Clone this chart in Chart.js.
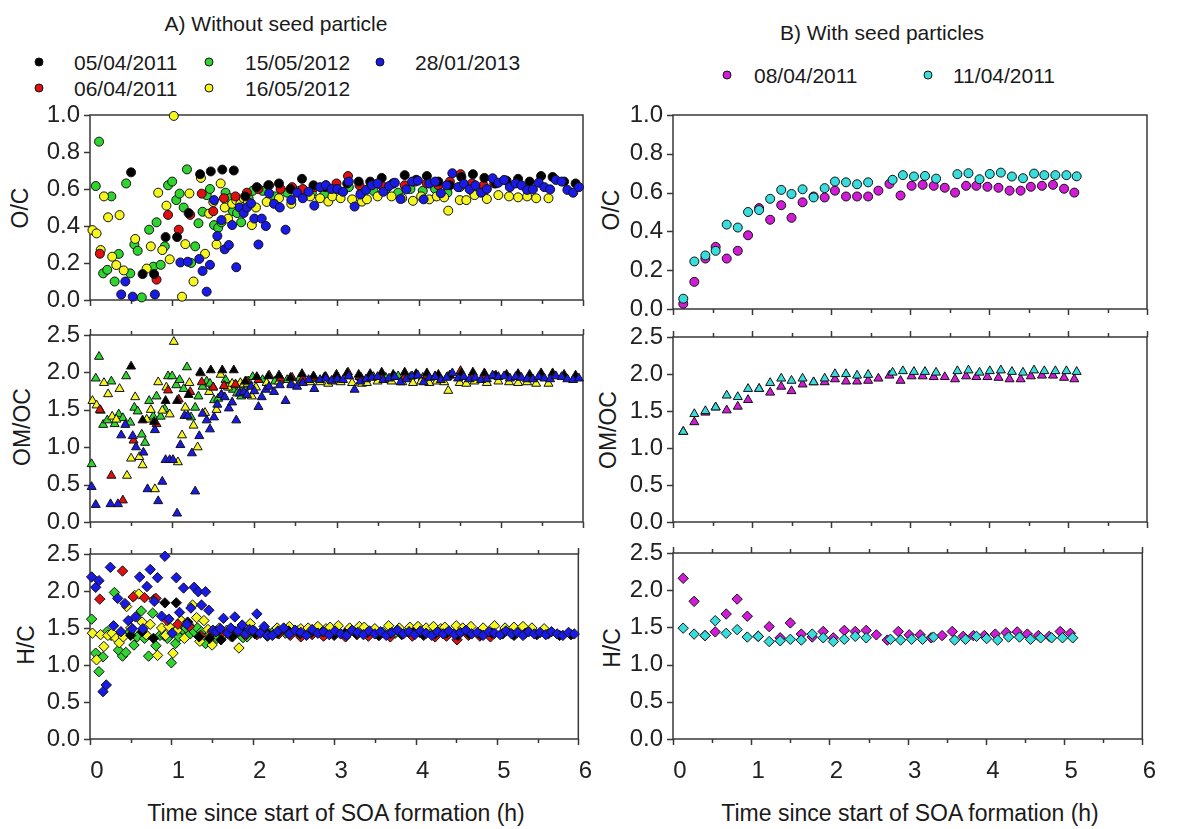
<!DOCTYPE html>
<html><head><meta charset="utf-8">
<script src="https://cdn.jsdelivr.net/npm/chart.js@4.4.1/dist/chart.umd.min.js"></script>
<style>
body{margin:0;background:#fff;width:1185px;height:829px;overflow:hidden;position:relative;font-family:"Liberation Sans",Arial,sans-serif;color:#1a1a1a}
canvas{position:absolute}
.lg{position:absolute;white-space:nowrap;font-size:21px;line-height:1;transform:translateY(-50%)}
.ttl{position:absolute;white-space:nowrap;font-size:21px;line-height:1;transform:translate(-50%,-50%)}
.yt{position:absolute;font-size:23px;line-height:1;white-space:nowrap;transform:translate(-50%,-50%) rotate(-90deg)}
.xt{position:absolute;font-size:23px;line-height:1;white-space:nowrap;transform:translate(-50%,-50%)}
.dot{position:absolute;width:7px;height:7px;border-radius:50%;border:1px solid #111;transform:translate(-50%,-50%)}
</style></head>
<body>
<div class="ttl" style="left:276px;top:23px">A) Without seed particle</div>
<div class="ttl" style="left:882px;top:32px">B) With seed particles</div>

<div class="dot" style="left:39px;top:62px;background:#000"></div><div class="lg" style="left:74px;top:62px">05/04/2011</div>
<div class="dot" style="left:209px;top:62px;background:#2fd42f"></div><div class="lg" style="left:245px;top:62px">15/05/2012</div>
<div class="dot" style="left:380px;top:62px;background:#1a1ae8"></div><div class="lg" style="left:415px;top:62px">28/01/2013</div>
<div class="dot" style="left:39px;top:88px;background:#e01010"></div><div class="lg" style="left:74px;top:88px">06/04/2011</div>
<div class="dot" style="left:209px;top:88px;background:#f5f520"></div><div class="lg" style="left:245px;top:88px">16/05/2012</div>

<div class="dot" style="left:727px;top:75px;background:#d21bd6"></div><div class="lg" style="left:754px;top:75px">08/04/2011</div>
<div class="dot" style="left:928px;top:75px;background:#38dcdc"></div><div class="lg" style="left:953px;top:75px">11/04/2011</div>

<div class="yt" style="left:20px;top:208px">O/C</div>
<div class="yt" style="left:22px;top:427px">OM/OC</div>
<div class="yt" style="left:26px;top:645px">H/C</div>
<div class="yt" style="left:611px;top:210px">O/C</div>
<div class="yt" style="left:608px;top:430px">OM/OC</div>
<div class="yt" style="left:612px;top:648px">H/C</div>
<div class="xt" style="left:336px;top:813px">Time since start of SOA formation (h)</div>
<div class="xt" style="left:910px;top:813px">Time since start of SOA formation (h)</div>

<script>
// ---------- Data (time in h; O/C, OM/OC, H/C) ----------
const tBlack = [0.50,0.64,0.78,0.92,1.06,1.20,1.34,1.47,1.61,1.75,1.89,2.03,2.17,2.30,2.44,2.58,2.72,2.86,3.00,3.13,3.27,3.41,3.55,3.69,3.83,3.97,4.10,4.24,4.38,4.52,4.66,4.80,4.94,5.07,5.21,5.35,5.49,5.63,5.77,5.91];
const ocBlack = [0.69,0.14,0.14,0.34,0.34,0.47,0.68,0.695,0.705,0.70,0.56,0.61,0.62,0.63,0.60,0.655,0.62,0.61,0.60,0.63,0.64,0.64,0.66,0.63,0.675,0.65,0.67,0.64,0.62,0.665,0.68,0.66,0.63,0.645,0.655,0.64,0.67,0.665,0.64,0.63];
const omBlack = [2.08,1.36,1.34,1.62,1.62,1.70,2.00,2.03,2.03,2.03,1.88,1.94,1.95,1.96,1.93,1.98,1.95,1.94,1.97,1.99,1.97,1.98,2.00,1.97,2.00,1.98,1.99,1.97,1.96,1.99,2.00,1.99,1.96,1.97,1.98,1.97,1.99,1.99,1.97,1.96];
const hcBlack = [1.40,1.45,1.36,1.84,1.84,1.58,1.38,1.36,1.34,1.38,1.45,1.42,1.44,1.43,1.46,1.42,1.44,1.45,1.41,1.43,1.42,1.44,1.40,1.43,1.42,1.44,1.41,1.42,1.43,1.40,1.42,1.41,1.43,1.42,1.40,1.43,1.41,1.42,1.40,1.41];

const tRed = [0.12,0.26,0.40,0.53,0.67,0.81,0.95,1.08,1.22,1.36,1.50,1.63,1.77,1.91,2.05,2.18,2.32,2.46,2.59,2.73,2.87,3.00,3.14,3.28,3.42,3.55,3.69,3.83,3.96,4.10,4.24,4.38,4.51,4.65,4.79,4.92];
const ocRed = [0.25,null,null,null,null,0.11,0.46,0.38,0.46,0.575,0.48,0.55,0.56,0.58,0.60,0.62,0.60,0.61,0.60,0.61,0.62,0.63,0.67,0.62,0.63,0.62,0.63,0.62,0.64,0.63,0.62,0.64,0.68,0.63,0.62,0.63];
const omRed = [1.50,0.62,0.29,1.09,null,1.31,1.76,1.64,1.74,1.87,1.80,1.82,1.84,1.88,1.90,1.96,1.92,1.93,1.92,1.93,1.94,1.95,2.00,1.94,1.95,1.94,1.95,1.94,1.96,1.95,1.94,1.96,2.02,1.95,1.94,1.95];
const hcRed = [1.89,null,2.27,1.92,1.91,1.90,1.60,1.55,1.52,1.40,1.45,1.44,1.42,1.40,1.41,1.39,1.42,1.40,1.38,1.41,1.39,1.40,1.38,1.41,1.39,1.40,1.38,1.41,1.39,1.40,1.38,1.39,1.34,1.40,1.39,1.38];

const tGreen = [0.02,0.07,0.11,0.16,0.21,0.26,0.30,0.35,0.40,0.44,0.49,0.54,0.58,0.63,0.67,0.72,0.77,0.81,0.86,0.91,0.95,1.00,1.05,1.09,1.14,1.18,1.23,1.28,1.32,1.37,1.42,1.46,1.51,1.56,1.60,1.65,1.70,1.74,1.79,1.84,1.88,1.93,1.98,
  2.10,2.25,2.40,2.55,2.70,2.85,3.00,3.15,3.30,3.45,3.60,3.75,3.90,4.05,4.20,4.35,4.50,4.65,4.80];
const ocGreen = [null,0.616,0.856,0.144,0.163,0.56,0.10,0.249,null,0.63,0.144,0.30,0.266,0.014,null,0.38,0.18,0.42,0.19,0.29,0.62,0.64,0.54,0.575,0.50,0.706,0.20,0.29,0.415,0.477,0.567,0.60,0.405,0.39,0.42,0.58,0.55,0.48,0.47,0.42,0.50,0.55,0.59,
  0.59,0.56,0.58,0.59,0.58,0.57,0.60,0.61,0.58,0.59,0.60,0.58,0.60,0.59,0.60,0.58,0.61,0.59,0.60];
const omGreen = [0.775,1.92,2.21,1.30,1.36,1.88,1.31,1.44,1.39,1.95,1.33,1.53,1.48,1.17,1.06,1.62,1.41,1.68,1.41,1.51,1.95,1.95,1.83,1.90,1.78,2.07,1.40,1.53,1.68,1.81,1.88,1.85,1.63,1.65,1.70,1.90,1.80,1.77,1.72,1.68,1.80,1.88,1.94,
  1.90,1.88,1.90,1.92,1.91,1.93,1.92,1.95,1.93,1.94,1.93,1.95,1.94,1.93,1.95,1.94,1.95,1.94,1.95];
const hcGreen = [1.62,1.16,0.91,1.11,1.45,1.40,1.98,1.20,1.12,1.17,1.45,1.27,1.38,1.73,1.36,1.12,1.70,1.26,1.40,1.40,1.36,1.03,1.29,1.38,1.48,1.50,1.42,1.45,1.50,1.45,1.29,1.40,1.42,1.36,1.44,1.41,1.43,1.40,1.45,1.42,1.37,1.38,1.44,
  1.44,1.45,1.43,1.46,1.44,1.45,1.43,1.44,1.46,1.45,1.44,1.43,1.45,1.44,1.46,1.44,1.45,1.43,1.44];

const tYellow = [0.03,0.08,0.13,0.17,0.22,0.27,0.32,0.36,0.41,0.45,0.50,0.55,0.60,0.64,0.69,0.74,0.79,0.83,0.88,0.93,0.97,1.02,1.07,1.12,1.16,1.21,1.26,1.31,1.35,1.40,1.45,1.50,1.54,1.59,1.64,1.68,1.73,1.78,1.83,1.87,1.92,1.97,2.02,
  2.15,2.30,2.45,2.59,2.68,2.80,2.90,2.95,3.05,3.19,3.31,3.37,3.50,3.67,3.80,3.93,4.03,4.13,4.22,4.31,4.36,4.50,4.58,4.68,4.83,4.97,5.10,5.21,5.32,5.43,5.58];
const ocYellow = [0.378,0.36,0.27,0.56,0.447,0.234,0.189,0.459,0.16,null,null,0.33,null,null,0.17,0.29,null,0.58,0.27,0.51,0.22,0.995,null,0.018,0.302,0.576,0.10,null,0.66,0.25,0.467,0.53,0.30,0.63,0.50,0.44,0.52,0.54,0.52,0.55,0.53,0.405,0.50,
  0.53,0.55,0.52,0.595,0.56,0.55,0.532,0.56,0.55,0.544,0.532,0.544,0.56,0.56,0.55,0.536,0.56,0.544,0.56,0.555,0.483,0.54,0.54,0.567,0.546,0.567,0.56,0.555,0.56,0.55,0.55];
const omYellow = [1.62,1.56,1.49,1.86,1.71,1.41,1.37,1.78,null,0.62,0.85,1.67,0.87,0.76,1.37,1.50,0.44,1.87,1.49,1.80,1.44,2.41,0.80,1.16,1.53,1.86,1.29,1.00,1.99,1.46,1.74,1.80,1.50,1.97,1.82,1.80,1.85,1.83,1.86,1.84,1.85,1.68,1.80,
  1.86,1.88,1.85,1.90,1.87,1.87,1.85,1.88,1.87,1.86,1.85,1.86,1.88,1.88,1.87,1.86,1.88,1.86,1.88,1.87,1.755,1.86,1.85,1.88,1.86,1.88,1.87,1.86,1.87,1.85,1.85];
const hcYellow = [1.43,1.07,1.41,1.25,1.40,1.43,1.36,1.30,1.38,1.79,1.50,1.94,1.96,1.58,1.41,1.55,1.89,1.13,1.50,1.40,1.52,1.16,1.47,1.60,1.36,1.55,1.81,1.64,1.32,1.60,1.48,1.27,1.45,1.50,1.42,1.47,1.39,1.45,1.23,1.48,1.50,1.56,1.46,
  1.48,1.50,1.52,1.49,1.50,1.52,1.49,1.51,1.53,1.50,1.52,1.51,1.49,1.53,1.50,1.51,1.52,1.50,1.52,1.49,1.51,1.53,1.50,1.52,1.50,1.53,1.50,1.51,1.52,1.50,1.49];

const tBlue = [0.02,0.07,0.11,0.16,0.20,0.25,0.29,0.34,0.38,0.43,0.47,0.52,0.56,0.61,0.65,0.70,0.74,0.79,0.83,0.88,0.92,0.97,1.01,1.06,1.10,1.15,1.19,1.24,1.28,1.33,1.37,1.42,1.46,1.51,1.55,1.60,1.64,1.69,1.73,1.78,1.82,1.87,1.91,1.96,2.00,2.05,2.09,2.14,2.18,
  2.24,2.31,2.38,2.45,2.52,2.59,2.66,2.73,2.80,2.87,2.94,3.01,3.08,3.15,3.22,3.29,3.36,3.43,3.50,3.57,3.64,3.71,3.78,3.85,3.92,3.99,4.06,4.13,4.20,4.27,4.34,4.41,4.48,4.55,4.62,4.69,4.76,4.83,4.90,4.97,5.04,5.11,5.18,5.25,5.32,5.39,5.46,5.53,5.60,5.67,5.74,5.81,5.88,5.95];
const ocBlue = [null,null,null,null,null,null,null,null,0.03,0.10,null,0.018,null,null,null,null,null,0.03,null,null,null,null,null,null,0.203,null,0.207,null,null,0.222,0.157,0.045,0.19,0.54,0.346,0.432,0.274,0.297,0.405,0.177,0.50,0.47,0.50,0.522,0.44,0.30,0.44,0.40,0.576,
  0.52,0.50,0.38,0.54,0.58,0.55,0.585,0.51,0.61,0.62,0.60,0.60,0.585,0.64,0.505,0.57,0.595,0.62,0.63,0.585,0.616,0.634,0.546,0.598,0.64,0.645,0.544,0.63,0.64,0.577,0.62,0.685,0.61,0.628,0.598,0.62,0.58,0.60,0.658,0.634,0.649,0.61,0.63,0.62,0.595,0.598,0.634,0.61,0.598,0.649,0.64,0.595,0.58,0.61];
const omBlue = [0.47,0.23,null,null,null,0.24,null,0.24,1.16,1.30,null,1.15,1.00,null,0.93,0.44,null,1.23,0.28,0.54,0.83,0.83,0.83,0.115,1.03,1.42,1.42,0.92,0.41,1.15,1.45,1.36,1.24,1.40,1.57,1.70,1.67,1.52,1.60,1.36,1.72,1.74,1.70,1.81,1.75,1.54,1.67,1.77,1.81,
  1.74,1.83,1.62,1.83,1.81,1.86,1.90,1.78,1.90,1.92,1.89,1.91,1.90,1.95,1.77,1.88,1.91,1.93,1.94,1.90,1.92,1.94,1.87,1.91,1.95,1.96,1.87,1.93,1.94,1.90,1.93,1.99,1.92,1.94,1.91,1.93,1.90,1.91,1.96,1.94,1.95,1.92,1.94,1.93,1.91,1.91,1.94,1.92,1.91,1.95,1.94,1.91,1.90,1.92];
const hcBlue = [2.19,2.05,2.14,0.64,0.73,2.32,1.53,1.90,1.45,1.83,1.60,1.49,1.65,2.19,1.49,2.06,2.29,1.86,2.18,1.66,2.47,1.62,1.43,2.18,1.71,2.04,1.55,1.77,2.05,1.99,1.81,1.99,1.74,1.47,1.45,1.49,1.63,1.43,1.50,1.65,1.46,1.54,1.42,1.48,1.47,1.69,1.43,1.52,1.40,
  1.40,1.46,1.50,1.42,1.47,1.44,1.40,1.48,1.43,1.45,1.41,1.46,1.42,1.40,1.47,1.44,1.41,1.46,1.42,1.45,1.40,1.44,1.47,1.42,1.45,1.41,1.46,1.43,1.40,1.45,1.42,1.46,1.41,1.44,1.47,1.42,1.44,1.40,1.45,1.43,1.41,1.46,1.42,1.44,1.40,1.45,1.42,1.44,1.41,1.45,1.42,1.40,1.44,1.42];

const tMag = [0.13,0.27,0.41,0.54,0.68,0.82,0.95,1.09,1.23,1.37,1.50,1.64,1.78,1.92,2.05,2.19,2.33,2.47,2.60,2.74,2.88,3.02,3.16,3.30,3.44,3.57,3.71,3.84,3.98,4.12,4.26,4.40,4.53,4.67,4.81,4.95,5.08];
const ocMag = [0.027,0.14,0.26,0.32,0.26,0.30,0.38,0.52,0.46,0.535,0.47,0.55,0.58,0.575,0.61,0.58,0.58,0.58,0.61,0.645,0.585,0.635,0.64,0.635,0.625,0.60,0.635,0.635,0.63,0.625,0.61,0.61,0.63,0.635,0.64,0.62,0.60];
const omMag = [1.22,1.35,1.48,1.55,1.51,1.56,1.65,1.80,1.75,1.83,1.77,1.86,1.89,1.89,1.93,1.90,1.90,1.91,1.94,1.98,1.91,1.97,1.97,1.96,1.96,1.93,1.97,1.96,1.96,1.95,1.93,1.93,1.97,1.98,1.98,1.95,1.93];
const hcMag = [2.16,1.85,1.39,1.44,1.68,1.88,1.65,1.38,1.51,1.36,1.56,1.41,1.37,1.445,1.36,1.46,1.445,1.46,1.40,1.33,1.445,1.40,1.40,1.36,1.39,1.445,1.38,1.39,1.39,1.41,1.43,1.44,1.41,1.39,1.38,1.445,1.42];

const tCyan = [0.13,0.27,0.41,0.54,0.68,0.82,0.95,1.09,1.23,1.37,1.50,1.64,1.78,1.92,2.05,2.19,2.33,2.47,2.78,2.91,3.05,3.19,3.33,3.60,3.74,3.88,4.01,4.15,4.29,4.43,4.57,4.70,4.84,4.98,5.11];
const ocCyan = [0.053,0.245,0.276,0.30,0.435,0.42,0.50,0.51,0.568,0.614,0.593,0.617,0.575,0.623,0.657,0.653,0.643,0.653,0.666,0.69,0.683,0.686,0.672,0.695,0.70,0.669,0.696,0.703,0.683,0.674,0.698,0.69,0.69,0.69,0.684];
const omCyan = [1.22,1.46,1.50,1.55,1.71,1.69,1.80,1.80,1.88,1.94,1.91,1.94,1.89,1.94,2.00,2.00,1.98,1.99,2.02,2.04,2.03,2.03,2.02,2.04,2.05,2.02,2.04,2.05,2.03,2.02,2.05,2.04,2.04,2.04,2.03];
const hcCyan = [1.49,1.41,1.39,1.59,1.42,1.47,1.37,1.38,1.31,1.32,1.34,1.33,1.41,1.36,1.31,1.34,1.38,1.36,1.34,1.33,1.34,1.34,1.37,1.33,1.34,1.38,1.35,1.33,1.37,1.37,1.34,1.36,1.36,1.36,1.36];

const xTickValues = [0,1,2,3,4,5,6];

// ---------- Rendering ----------
const FONT = '"Liberation Sans", Arial, sans-serif';
const COL = {black:'#000000', red:'#e01010', green:'#2fd42f', yellow:'#f5f520', blue:'#1a1ae8', mag:'#d21bd6', cyan:'#38dcdc'};

function pts(t, v){ const out=[]; for(let i=0;i<t.length;i++){ if(v[i]!==null && v[i]!==undefined) out.push({x:t[i], y:v[i]}); } return out; }
function ds(data, color, shape, r){
  return {data, pointStyle:shape, pointRadius:r, pointHoverRadius:r, backgroundColor:color, borderColor:'#111', borderWidth:1, showLine:false, clip:12};
}

const framePlugin = {
  id:'frame',
  beforeDatasetsDraw(chart, args, o){
    const {ctx, chartArea:a, scales} = chart;
    const x = scales.x, y = scales.y;
    ctx.save();
    ctx.strokeStyle = '#383838'; ctx.lineWidth = 1.5;
    ctx.strokeRect(a.left, a.top, a.right-a.left, a.bottom-a.top);
    ctx.beginPath();
    for(let k=0;k<=12;k++){
      const v = k/2, px = Math.round(x.getPixelForValue(v))+0.5, L = (k%2===0)?6:4;
      ctx.moveTo(px, a.bottom); ctx.lineTo(px, a.bottom+L);
      if(o.top){ ctx.moveTo(px, a.top); ctx.lineTo(px, a.top-L); }
    }
    y.ticks.forEach(t=>{ const py = Math.round(y.getPixelForValue(t.value))+0.5; ctx.moveTo(a.left, py); ctx.lineTo(a.left-6, py); });
    ctx.stroke();
    ctx.restore();
  }
};

function panel(left, top, plotW, plotH, showX, yMax, yStep, datasets, topTicks){
  const PAD_T=28, PAD_R=20, PAD_B = showX?8:18, YW=80, XH = showX?50:10;
  const c = document.createElement('canvas');
  c.width = YW + plotW + PAD_R; c.height = PAD_T + plotH + XH + PAD_B;
  c.style.left = (left - YW) + 'px'; c.style.top = (top - PAD_T) + 'px';
  document.body.appendChild(c);
  new Chart(c, {
    type:'scatter',
    data:{datasets},
    options:{
      responsive:false, animation:false, devicePixelRatio:1, events:[],
      layout:{padding:{left:0,right:PAD_R,top:PAD_T,bottom:PAD_B}},
      plugins:{legend:{display:false}, tooltip:{enabled:false}, frame:{top:topTicks}},
      scales:{
        x:{type:'linear', min:0, max:6, afterFit:s=>{s.height=XH;},
           afterBuildTicks:s=>{ s.ticks = xTickValues.map(v=>({value:v})); },
           grid:{display:false, drawTicks:false}, border:{display:false},
           ticks:{display:showX, padding:18, labelOffset:7, color:'#222', font:{family:FONT,size:24}, callback:v=>String(v)}},
        y:{type:'linear', min:0, max:yMax, afterFit:s=>{s.width=YW;},
           grid:{display:false, drawTicks:false}, border:{display:false},
           ticks:{stepSize:yStep, padding:10, color:'#222', font:{family:FONT,size:24}, callback:v=>Number(v).toFixed(1)}}
      }
    },
    plugins:[framePlugin]
  });
}

function leftSets(vals, shape, r){
  return [
    ds(pts(tBlue, vals.blue), COL.blue, shape, r),
    ds(pts(tBlack, vals.black), COL.black, shape, r),
    ds(pts(tRed, vals.red), COL.red, shape, r),
    ds(pts(tYellow, vals.yellow), COL.yellow, shape, r),
    ds(pts(tGreen, vals.green), COL.green, shape, r)
  ];
}
function rightSets(vc, vm, shape, r){
  return [ ds(pts(tCyan, vc), COL.cyan, shape, r), ds(pts(tMag, vm), COL.mag, shape, r) ];
}

// Left column (A)
panel(90, 115, 493, 185, false, 1.0, 0.2, leftSets({blue:ocBlue,black:ocBlack,red:ocRed,yellow:ocYellow,green:ocGreen}, 'circle', 4.5), false);
panel(90, 335, 493, 187, false, 2.5, 0.5, leftSets({blue:omBlue,black:omBlack,red:omRed,yellow:omYellow,green:omGreen}, 'triangle', 5.2), true);
panel(90, 554, 493, 185, true, 2.5, 0.5, leftSets({blue:hcBlue,black:hcBlack,red:hcRed,yellow:hcYellow,green:hcGreen}, 'rectRot', 5.2), true);
// Right column (B)
panel(673, 115, 474, 194, false, 1.0, 0.2, rightSets(ocCyan, ocMag, 'circle', 4.5), false);
panel(673, 337, 474, 185, false, 2.5, 0.5, rightSets(omCyan, omMag, 'triangle', 5.2), true);
panel(673, 553, 474, 186, true, 2.5, 0.5, rightSets(hcCyan, hcMag, 'rectRot', 5.2), true);
</script>
</body></html>
